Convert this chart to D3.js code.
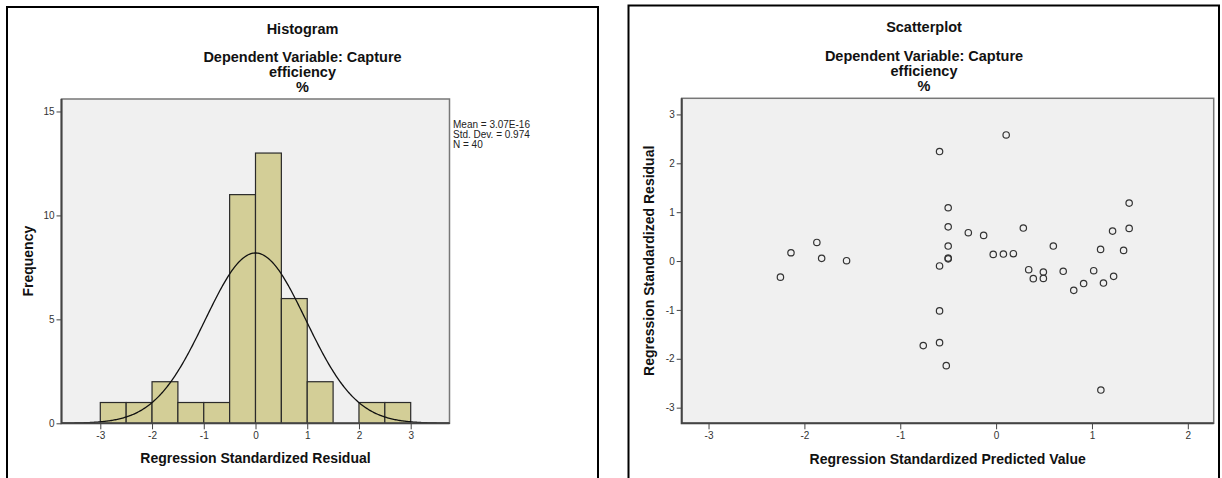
<!DOCTYPE html>
<html>
<head>
<meta charset="utf-8">
<script src="https://cdn.jsdelivr.net/npm/d3@7"></script>
<style>
  body { margin: 0; background: #fff; }
  svg { display: block; font-family: "Liberation Sans", Arial, sans-serif; }
  .tick text { font-size: 10px; fill: #333; }
  .tick line { stroke: #444; }
</style>
</head>
<body>
<div id="viz"></div>
<script>
// histogram of residuals
const binStarts = [-3, -2.5, -2, -1.5, -1, -0.5, 0, 0.5, 1, 1.5, 2, 2.5];
const binCounts = [1, 1, 2, 1, 1, 11, 13, 6, 2, 0, 1, 1];
const binWidth = 0.5;
const histMean = 3.07e-16;
const histSd = 0.974;
const histN = 40;
const histXTicks = [-3, -2, -1, 0, 1, 2, 3];
const histYTicks = [0, 5, 10, 15];
const statLines = ["Mean = 3.07E-16", "Std. Dev. = 0.974", "N = 40"];

// scatter: predicted vs residual
const predicted = [-2.25, -2.14, -1.87, -1.82, -1.56, -0.59, -0.50, -0.50, -0.50, -0.50, -0.50,
  -0.59, -0.59, -0.59, -0.76, -0.52, -0.29, -0.13, 0.105, -0.03, 0.076, 0.18, 0.284, 0.34,
  0.388, 0.493, 0.493, 0.597, 0.70, 0.81, 0.913, 1.018, 1.09, 1.12, 1.093, 1.215, 1.226,
  1.33, 1.388, 1.388];
const residual = [-0.33, 0.17, 0.38, 0.055, 0.007, 2.24, 1.09, 0.70, 0.307, 0.045, 0.06,
  -0.10, -1.02, -1.67, -1.73, -2.14, 0.58, 0.525, 2.58, 0.136, 0.143, 0.15, 0.675, -0.177,
  -0.36, -0.225, -0.355, 0.307, -0.21, -0.60, -0.46, -0.198, 0.238, -0.45, -2.64, 0.613,
  -0.313, 0.218, 1.186, 0.668];
const scatXTicks = [-3, -2, -1, 0, 1, 2];
const scatYTicks = [-3, -2, -1, 0, 1, 2, 3];

const W = 1222, H = 478;
const svg = d3.select("#viz").append("svg").attr("width", W).attr("height", H);
const fmt = d => String(d); // plain hyphen minus like SPSS

// panel borders (open at the bottom, cut by the window)
function panel(x0, x1, y0) {
  svg.append("path")
    .attr("d", `M${x0},${H + 5}V${y0}H${x1}V${H + 5}`)
    .attr("fill", "none").attr("stroke", "#000").attr("stroke-width", 2);
}
panel(7, 598, 7);
panel(628.5, 1219, 5.5);

function titles(cx, lines, ys) {
  lines.forEach((t, i) => {
    svg.append("text").attr("x", cx).attr("y", ys[i])
      .attr("text-anchor", "middle").attr("font-weight", "bold")
      .attr("font-size", "14.5px").attr("fill", "#111").text(t);
  });
}

function plotFrame(x, y) {
  const [l, r] = x.range(), [b, t] = y.range();
  svg.append("rect").attr("x", l).attr("y", t).attr("width", r - l).attr("height", b - t)
    .attr("fill", "#f0f0f0").attr("stroke", "#777").attr("stroke-width", 1.5);
  return { l, r, b, t };
}

function axes(x, y, xt, yt, f) {
  svg.append("g").attr("transform", `translate(0,${f.b})`)
    .call(d3.axisBottom(x).tickValues(xt).tickFormat(fmt).tickSize(6).tickPadding(3))
    .call(g => g.select(".domain").remove());
  svg.append("g").attr("transform", `translate(${f.l},0)`)
    .call(d3.axisLeft(y).tickValues(yt).tickFormat(fmt).tickSize(5).tickPadding(2))
    .call(g => g.select(".domain").remove());
  svg.append("path")
    .attr("d", `M${f.l},${f.t}V${f.b}H${f.r}`)
    .attr("fill", "none").attr("stroke", "#444").attr("stroke-width", 2);
}

// ---- Histogram ----
const hx = d3.scaleLinear([-3.75, 3.75], [61.5, 449.5]);
const hy = d3.scaleLinear([0, 15.6], [423.3, 99]);
titles(302.5, ["Histogram", "Dependent Variable: Capture", "efficiency", "%"], [34, 62, 77, 92]);
const hf = plotFrame(hx, hy);

svg.append("g").selectAll("rect")
  .data(binStarts.map((s, i) => ({ s, c: binCounts[i] })).filter(d => d.c > 0))
  .enter().append("rect")
    .attr("x", d => hx(d.s))
    .attr("y", d => hy(d.c))
    .attr("width", d => hx(d.s + binWidth) - hx(d.s))
    .attr("height", d => hy(0) - hy(d.c))
    .attr("fill", "#d3ce97")
    .attr("stroke", "#2a2a2a")
    .attr("stroke-width", 1.2);

// normal curve from the reported mean / sd / N
const peak = histN * binWidth / (histSd * Math.sqrt(2 * Math.PI));
const curveX = d3.range(-3.75, 3.7501, 0.02);
svg.append("path")
  .datum(curveX)
  .attr("fill", "none").attr("stroke", "#111").attr("stroke-width", 1.3)
  .attr("d", d3.line()
    .x(v => hx(v))
    .y(v => hy(peak * Math.exp(-0.5 * Math.pow((v - histMean) / histSd, 2)))));

axes(hx, hy, histXTicks, histYTicks, hf);

statLines.forEach((t, i) => {
  svg.append("text").attr("x", 453).attr("y", 127.5 + i * 10)
    .attr("font-size", "10px").attr("fill", "#222").text(t);
});

svg.append("text").attr("x", (hf.l + hf.r) / 2).attr("y", 463)
  .attr("text-anchor", "middle").attr("font-weight", "bold")
  .attr("font-size", "14px").attr("fill", "#111").text("Regression Standardized Residual");
svg.append("text").attr("transform", `translate(33,${(hf.t + hf.b) / 2}) rotate(-90)`)
  .attr("text-anchor", "middle").attr("font-weight", "bold")
  .attr("font-size", "14px").attr("fill", "#111").text("Frequency");

// ---- Scatterplot ----
const sx = d3.scaleLinear([-3.28, 2.27], [681.7, 1213.7]);
const sy = d3.scaleLinear([-3.32, 3.33], [423.3, 98.3]);
titles(924, ["Scatterplot", "Dependent Variable: Capture", "efficiency", "%"], [31.5, 61, 76, 91]);
const sf = plotFrame(sx, sy);

svg.append("g").selectAll("circle")
  .data(predicted.map((p, i) => [p, residual[i]]))
  .enter().append("circle")
    .attr("cx", d => sx(d[0]))
    .attr("cy", d => sy(d[1]))
    .attr("r", 3.2)
    .attr("fill", "none")
    .attr("stroke", "#333")
    .attr("stroke-width", 1.2);

axes(sx, sy, scatXTicks, scatYTicks, sf);

svg.append("text").attr("x", (sf.l + sf.r) / 2).attr("y", 464)
  .attr("text-anchor", "middle").attr("font-weight", "bold")
  .attr("font-size", "14px").attr("fill", "#111").text("Regression Standardized Predicted Value");
svg.append("text").attr("transform", `translate(654,${(sf.t + sf.b) / 2}) rotate(-90)`)
  .attr("text-anchor", "middle").attr("font-weight", "bold")
  .attr("font-size", "14px").attr("fill", "#111").text("Regression Standardized Residual");
</script>
</body>
</html>
